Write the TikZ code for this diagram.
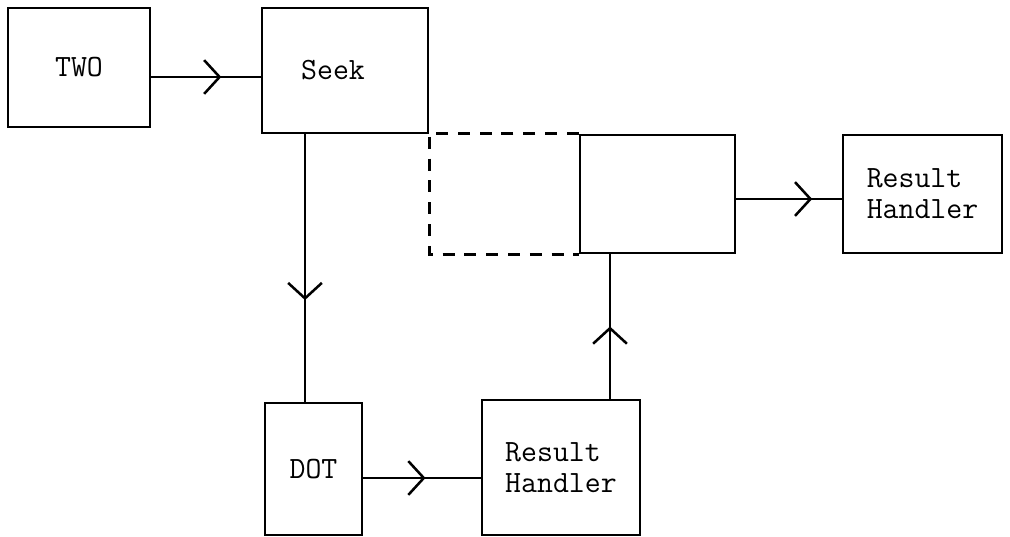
\documentclass[tikz,border=0pt]{standalone}
\usepackage{fontspec}
\usepackage{tikz}
\usetikzlibrary{arrows.meta,decorations.markings}

\begin{document}
\begin{tikzpicture}[x=0.025cm, y=-0.025cm, line width=1.8pt,
  box/.style={draw, rectangle, inner sep=0pt, font=\ttfamily\fontsize{22}{22}\selectfont, align=left},
  lbl/.style={inner sep=0pt, font=\ttfamily\fontsize{22}{22}\selectfont},
  midarrow/.style={postaction={decorate}, decoration={markings,
    mark=at position #1 with {\arrow{Straight Barb[length=11pt, width=24pt, line width=1.8pt]}}}},
  dashline/.style={dash pattern=on 8.5pt off 7pt}]
\useasboundingbox (0,0) rectangle (1010,537);
% top row
\node[box, minimum width=3.55cm, minimum height=2.975cm] (two) at (79,67.5) {TWO};
\node[box, minimum width=4.15cm, minimum height=3.125cm] (seek) at (345,70.5) {};
\node[lbl] (seektxt) at (333,70) {Seek};
\node[box, minimum width=3.875cm, minimum height=2.95cm] (mid) at (657.5,194) {};
\node[box, minimum width=3.975cm, minimum height=2.95cm] (rhr) at (922.5,194) {Result\\Handler};
% bottom row
\node[box, minimum width=2.425cm, minimum height=3.3cm] (dot) at (313.5,469) {DOT};
\node[box, minimum width=3.95cm, minimum height=3.375cm] (rhb) at (561,467.5) {Result\\Handler};
% dashed part
\draw[dashline] (mid.north west) -- (mid.north west -| seek.east) -- (mid.south west -| seek.east) -- (mid.south west);
% connectors
\draw[midarrow=0.64] (two.east |- 0,77) -- (seek.west |- 0,77);
\draw[midarrow=0.62] (seek.south -| 305,0) -- (dot.north -| 305,0);
\draw[midarrow=0.53] (dot.east |- 0,478) -- (rhb.west |- 0,478);
\draw[midarrow=0.5] (rhb.north -| 610,0) -- (mid.south -| 610,0);
\draw[midarrow=0.72] (mid.east |- 0,199) -- (rhr.west |- 0,199);
\end{tikzpicture}
\end{document}
